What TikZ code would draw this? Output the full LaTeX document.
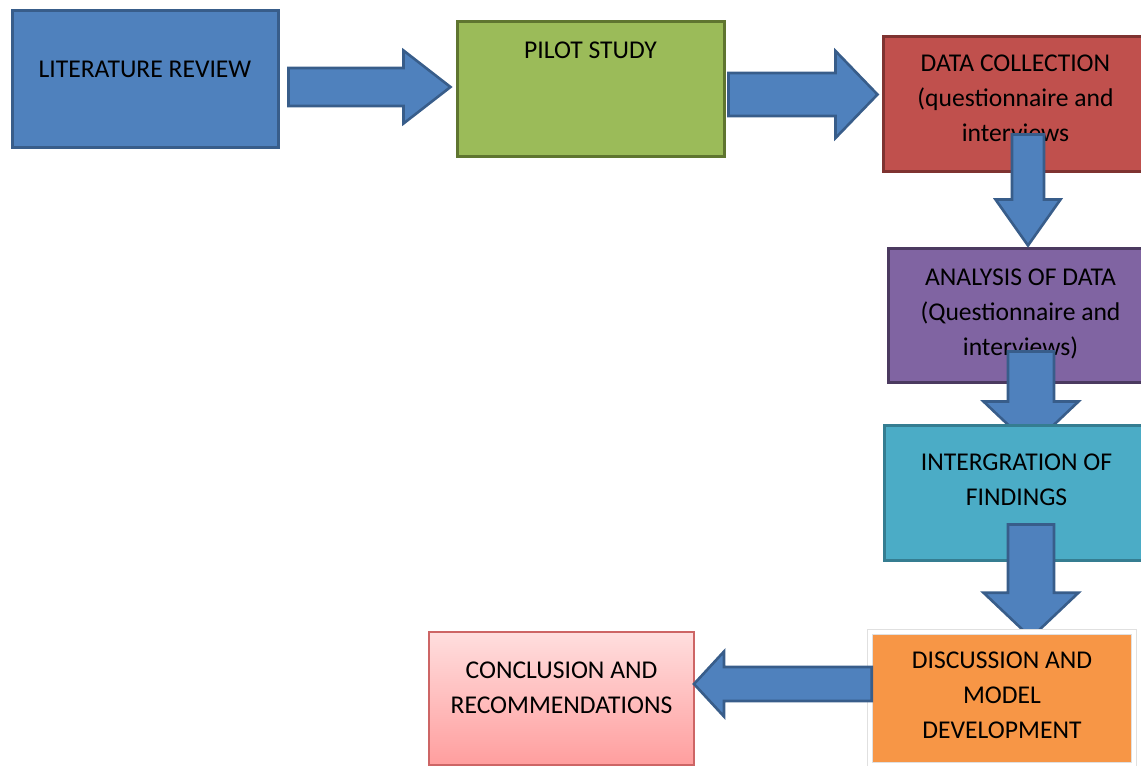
\documentclass[tikz,border=0pt]{standalone}
\usepackage{fontspec}
\setmainfont{Carlito}
\usetikzlibrary{calc}

\definecolor{litblue}{HTML}{4F81BD}
\definecolor{litedge}{HTML}{385D8A}
\definecolor{pilotgreen}{HTML}{9BBB59}
\definecolor{pilotedge}{HTML}{5F7530}
\definecolor{datared}{HTML}{C0504D}
\definecolor{dataedge}{HTML}{7F3331}
\definecolor{anapurple}{HTML}{8064A2}
\definecolor{anaedge}{HTML}{4B3A60}
\definecolor{integteal}{HTML}{4BACC6}
\definecolor{integedge}{HTML}{357D91}
\definecolor{discorange}{HTML}{F79646}
\definecolor{conctop}{HTML}{FFDEDE}
\definecolor{concbottom}{HTML}{FF9E9E}
\definecolor{concedge}{HTML}{CD6565}

\pgfdeclarelayer{under}
\pgfdeclarelayer{over}
\pgfsetlayers{under,main,over}

\newcommand{\boxfont}{\fontsize{12.8pt}{17.5pt}\selectfont}

% block arrow: from, to, shaft half width, head half width, head length
\newcommand{\bigarrow}[5]{%
  \coordinate (hb) at ($(#2)!#5!(#1)$);
  \draw[blockarrow] ($(#1)!#3!90:(#2)$) -- ($(hb)!#3!-90:(#1)$)
    -- ($(hb)!#4!-90:(#1)$) -- (#2) -- ($(hb)!#4!90:(#1)$)
    -- ($(hb)!#3!90:(#1)$) -- ($(#1)!#3!-90:(#2)$) -- cycle;
}

\tikzset{
  box/.style={draw, line width=1.5pt, inner sep=0pt, align=center,
    font=\boxfont, text=black},
  blockarrow/.style={draw=litedge, fill=litblue, line width=1.3pt,
    line join=miter},
}

\begin{document}
\begin{tikzpicture}[x=0.5pt, y=-0.5pt]

\useasboundingbox (0,0) rectangle (1141,766);

%---------------------------------------
% Top row and the boxes behind the arrows
%---------------------------------------
\begin{pgfonlayer}{under}
  \node[box, fill=litblue, draw=litedge, minimum width=133pt,
        text height=33.6pt, text depth=34.9pt] (lit) at (145,78.5)
        {LITERATURE REVIEW};
  \node[box, fill=pilotgreen, draw=pilotedge, minimum width=133.5pt,
        text height=18.6pt, text depth=48.9pt] (pilot) at (590.5,88.5)
        {PILOT STUDY};
  \node[box, fill=datared, draw=dataedge, minimum width=132.5pt,
        text height=52.9pt, text depth=14.6pt] (data) at (1015.5,103.5)
        {DATA COLLECTION\\(questionnaire and\\interviews};
  \node[box, fill=anapurple, draw=anaedge, minimum width=132.5pt,
        text height=53.6pt, text depth=13.4pt] (analysis) at (1020.5,315)
        {ANALYSIS OF DATA\\(Questionnaire and\\interviews)};
\end{pgfonlayer}

\node[box, fill=integteal, draw=integedge, minimum width=132.5pt,
      text height=40.1pt, text depth=27.4pt] (integ) at (1016.5,492.5)
      {INTERGRATION OF\\FINDINGS};

%---------------------------------------
% Bottom row
%---------------------------------------
\begin{pgfonlayer}{over}
  \node[box, fill=discorange, draw=black!12, line width=0.3pt,
        double=white, double distance=2.4pt, minimum width=132pt,
        text height=53.1pt, text depth=13.4pt] (disc) at (1002,698.5)
        {DISCUSSION AND\\MODEL\\DEVELOPMENT};
  \node[box, top color=conctop, bottom color=concbottom, draw=concedge,
        line width=1pt, minimum width=132.5pt,
        text height=40.6pt, text depth=25.9pt] (concl) at (561.5,698.5)
        {CONCLUSION AND\\RECOMMENDATIONS};
\end{pgfonlayer}

% arrow ends
\coordinate (litout)    at ($(lit.east)+(9,8.5)$);
\coordinate (pilotin)   at ($(pilot.west)+(-5,-1.5)$);
\coordinate (pilotout)  at ($(pilot.east)+(3,6)$);
\coordinate (datain)    at ($(data.west)+(-4,-9)$);
\coordinate (dataout)   at ($(data.south)+(12.5,-38)$);
\coordinate (anain)     at ($(analysis.north)+(7.5,-1)$);
\coordinate (anaout)    at ($(analysis.south)+(10.5,-32)$);
\coordinate (integin)   at ($(integ.north)+(14.5,23)$);
\coordinate (integout)  at ($(integ.south)+(14.5,-37)$);
\coordinate (discin)    at ($(disc.north)+(29,6)$);
\coordinate (discout)   at ($(disc.west)+(2,-14.5)$);
\coordinate (conclin)   at ($(concl.east)+(-1,-14.5)$);

\begin{pgfonlayer}{under}
  \bigarrow{litout}{pilotin}{9.5pt}{18.25pt}{23.5pt}
  \bigarrow{pilotout}{datain}{10.75pt}{21.75pt}{21pt}
  \bigarrow{dataout}{anain}{8pt}{16.25pt}{23pt}
  \bigarrow{anaout}{integin}{11.5pt}{23.75pt}{22.5pt}
\end{pgfonlayer}

\bigarrow{integout}{discin}{11.5pt}{23.75pt}{22.5pt}

\begin{pgfonlayer}{over}
  \bigarrow{discout}{conclin}{8.5pt}{16.25pt}{15pt}
\end{pgfonlayer}

\end{tikzpicture}
\end{document}
